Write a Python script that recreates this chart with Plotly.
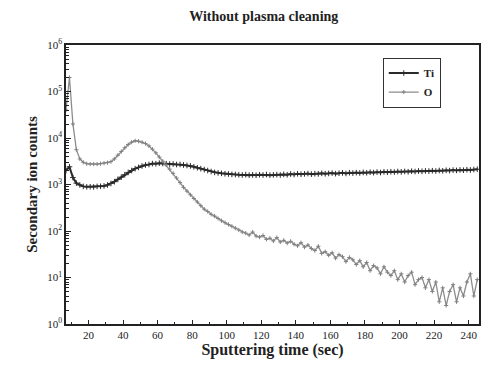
import plotly.graph_objects as go

time_s = list(range(7, 246, 2))

ti_counts = [
    1995, 2400, 1410, 1070, 980, 910, 890, 895, 885, 910,
    915, 930, 975, 1050, 1150, 1290, 1440, 1620, 1820, 2000,
    2190, 2340, 2510, 2630, 2690, 2820, 2800, 2880, 2830, 2810,
    2750, 2760, 2690, 2700, 2630, 2570, 2510, 2400, 2290, 2190,
    2090, 2000, 1900, 1820, 1780, 1740, 1700, 1680, 1650, 1640,
    1620, 1600, 1630, 1590, 1610, 1580, 1620, 1600, 1640, 1590,
    1610, 1630, 1600, 1650, 1620, 1680, 1640, 1700, 1660, 1690,
    1720, 1670, 1710, 1690, 1740, 1700, 1730, 1760, 1710, 1750,
    1780, 1730, 1790, 1760, 1800, 1770, 1820, 1790, 1840, 1800,
    1850, 1810, 1870, 1840, 1880, 1850, 1900, 1870, 1910, 1880,
    1930, 1900, 1950, 1920, 1960, 1940, 1980, 1950, 2000, 1970,
    2020, 1990, 2040, 2010, 2060, 2030, 2080, 2050, 2100, 2130,
]

o_counts = [
    40000, 200000, 20000, 5600, 3550, 3000, 2800, 2750, 2750, 2750,
    2800, 2880, 2950, 3100, 3550, 4270, 5130, 6170, 7240, 8130,
    8710, 8510, 8130, 7590, 6760, 5750, 4790, 3890, 3160, 2630,
    2140, 1740, 1380, 1100, 870, 720, 600, 500, 420, 350,
    295, 263, 229, 209, 186, 166, 151, 138, 126, 115,
    105, 95,
    90, 82, 95, 78, 74, 80, 66, 70, 61, 72,
    58, 63, 55, 60, 52, 48, 56, 45, 50, 42,
    38, 47, 33, 36, 30, 34, 26, 31, 28, 22,
    27, 24, 19, 23, 17, 21, 14, 18, 16, 12,
    17, 13, 11, 14, 9, 12, 8, 11, 13, 7,
    9, 10, 6, 9, 5, 8, 3, 6, 2.5, 5,
    7, 3, 6, 4, 8, 12, 4, 9,
]

assert len(time_s) == len(ti_counts) == len(o_counts)

y_tick_vals = [1, 10, 100, 1000, 10000, 100000, 1000000]
y_tick_text = ["10<sup>0</sup>", "10<sup>1</sup>", "10<sup>2</sup>", "10<sup>3</sup>",
               "10<sup>4</sup>", "10<sup>5</sup>", "10<sup>6</sup>"]
x_tick_vals = [20, 40, 60, 80, 100, 120, 140, 160, 180, 200, 220, 240]

serif = "Liberation Serif"

fig = go.Figure()
fig.add_trace(go.Scatter(
    x=time_s, y=ti_counts, name="<b>Ti</b>", mode="lines+markers",
    line=dict(color="#2a2a2a", width=2),
    marker=dict(symbol="cross-thin", size=4, color="#2a2a2a",
                line=dict(color="#2a2a2a", width=1)),
))
fig.add_trace(go.Scatter(
    x=time_s, y=o_counts, name="<b>O</b>", mode="lines+markers",
    line=dict(color="#8c8c8c", width=1.3),
    marker=dict(symbol="cross-thin", size=3, color="#808080",
                line=dict(color="#808080", width=1)),
))

fig.update_layout(
    width=484, height=378,
    margin=dict(l=66, r=3, t=45, b=54),
    paper_bgcolor="white", plot_bgcolor="white",
    font=dict(family=serif, color="#222", size=11),
    title=dict(text="<b>Without plasma cleaning</b>", x=0.545, xanchor="center",
               y=0.958, yanchor="middle", font=dict(family=serif, size=14, color="#222")),
    showlegend=True,
    legend=dict(x=0.767, y=0.955, xanchor="left", yanchor="top",
                bordercolor="#333", borderwidth=1, bgcolor="white",
                font=dict(family=serif, size=11, color="#222"),
                tracegroupgap=0, itemwidth=30),
)
fig.update_xaxes(
    range=[7, 246], tickvals=x_tick_vals, ticks="inside", ticklen=4,
    tickcolor="#222", showline=True, linecolor="#222", linewidth=1.5, mirror=True,
    showgrid=False, zeroline=False, tickfont=dict(family=serif, size=11),
    minor=dict(tickvals=list(range(10, 246, 10)), ticks="inside", ticklen=2, tickcolor="#222"),
    title=dict(text="<b>Sputtering time (sec)</b>", font=dict(family=serif, size=16), standoff=4),
)
fig.update_yaxes(
    type="log", range=[0, 6], tickvals=y_tick_vals, ticktext=y_tick_text,
    ticks="inside", ticklen=5, tickcolor="#222", showline=True, linecolor="#222",
    linewidth=1.5, mirror=True, showgrid=False, zeroline=False,
    tickfont=dict(family=serif, size=11),
    minor=dict(ticks="inside", ticklen=3, tickcolor="#222", dtick="D1"),
    title=dict(text="<b>Secondary ion counts</b>", font=dict(family=serif, size=15), standoff=6),
)

fig.write_html("out.html")
